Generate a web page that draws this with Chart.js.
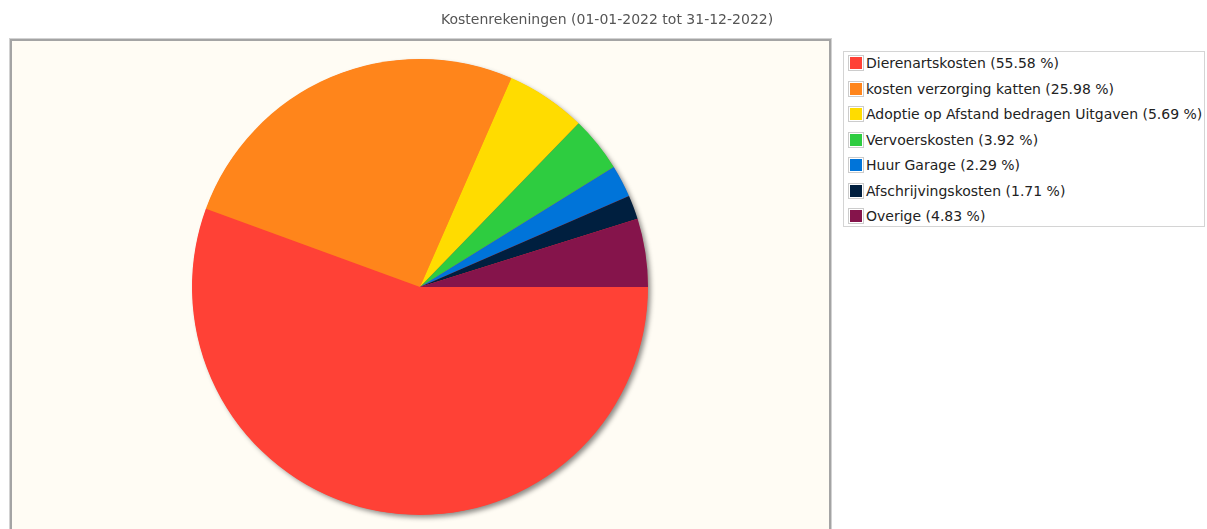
<!DOCTYPE html>
<html>
<head>
<meta charset="utf-8">
<script src="https://cdn.jsdelivr.net/npm/chart.js@4/dist/chart.umd.min.js"></script>
<style>
    body { margin: 0; background: #fff; font-family: 'DejaVu Sans', sans-serif; }
    #wrap { position: relative; width: 1207px; height: 529px; overflow: hidden; }
    #pie { position: absolute; left: 0; top: 0; }
    #title { position: absolute; left: 441px; top: 11px; font-size: 14px; color: #555; white-space: nowrap; }
    #legend { position: absolute; left: 843px; top: 51px; width: 360px; height: 174px; border: 1px solid #d4d4d4; background: #fff; }
    .item { position: absolute; left: 4px; height: 16px; font-size: 14px; color: #222; white-space: nowrap; line-height: 16px; }
    .box { display: inline-block; width: 12px; height: 12px; border: 1px solid #ccc; padding: 1px; vertical-align: top; margin-right: 2px; }
    .box span { display: block; width: 12px; height: 12px; }
</style>
</head>
<body>
<div id="wrap">
    <canvas id="pie" width="1207" height="529"></canvas>
    <div id="title">Kostenrekeningen (01-01-2022 tot 31-12-2022)</div>
    <div id="legend"></div>
</div>
<script>
const labels = ['Dierenartskosten', 'kosten verzorging katten', 'Adoptie op Afstand bedragen Uitgaven', 'Vervoerskosten', 'Huur Garage', 'Afschrijvingskosten', 'Overige'];
const percentages = [55.58, 25.98, 5.69, 3.92, 2.29, 1.71, 4.83];
const colors = ['#FF4136', '#FF851B', '#FFDC00', '#2ECC40', '#0074D9', '#001F3F', '#85144B'];

/* html legend */
const legendEl = document.getElementById('legend');
labels.forEach((label, i) => {
    const row = document.createElement('div');
    row.className = 'item';
    row.style.top = (3 + i * 25.5) + 'px';
    row.innerHTML = `<span class="box"><span style="background:${colors[i]}"></span></span>${label} (${percentages[i].toFixed(2)} %)`;
    legendEl.appendChild(row);
});

/* achtergrond + kader van het plotgebied */
const frame = {
    id: 'frame',
    beforeDraw(chart) {
        const c = chart.ctx;
        c.save();
        c.fillStyle = '#fffcf4';
        c.fillRect(10, 38, 821, 500);
        c.strokeStyle = '#d2d2d2';
        c.lineWidth = 1;
        c.strokeRect(9.5, 38.5, 822, 500);
        c.strokeStyle = '#a4a4a4';
        c.lineWidth = 2;
        c.strokeRect(11, 40, 819, 500);
        c.restore();
    }
};

/* schaduw onder de taart */
const pieShadow = {
    id: 'pieShadow',
    beforeDatasetsDraw(chart) {
        const arc = chart.getDatasetMeta(0).data[0];
        if (!arc) return;
        const c = chart.ctx;
        c.save();
        c.shadowColor = 'rgba(0,0,0,0.45)';
        c.shadowBlur = 5;
        c.shadowOffsetX = 3;
        c.shadowOffsetY = 3;
        c.fillStyle = colors[0];
        c.beginPath();
        c.arc(arc.x, arc.y, arc.outerRadius - 0.5, 0, Math.PI * 2);
        c.fill();
        c.restore();
    }
};

new Chart(document.getElementById('pie'), {
    type: 'pie',
    data: {
        labels: labels,
        datasets: [{
            data: percentages,
            backgroundColor: colors,
            borderWidth: 0
        }]
    },
    options: {
        responsive: false,
        animation: false,
        rotation: 90,
        layout: {
            padding: { left: 192, right: 559, top: 59, bottom: 14 }
        },
        plugins: {
            legend: { display: false },
            tooltip: { enabled: false }
        }
    },
    plugins: [frame, pieShadow]
});
</script>
</body>
</html>
